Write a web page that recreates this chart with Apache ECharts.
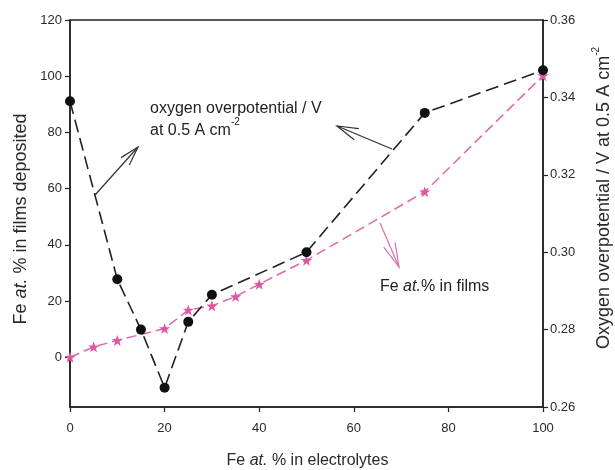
<!DOCTYPE html>
<html>
<head>
<meta charset="utf-8">
<title>Fe content and oxygen overpotential</title>
<script src="https://cdn.jsdelivr.net/npm/echarts@6/dist/echarts.min.js"></script>
<style>
  html, body { margin: 0; padding: 0; background: #fff; }
  #chart { width: 615px; height: 470px; }
</style>
</head>
<body>
<div id="chart"></div>
<script>
// Fe at.% in the electrolyte for each measured overpotential
const electrolyteFeOxy = [0, 10, 15, 20, 25, 30, 50, 75, 100];
// Oxygen overpotential / V at 0.5 A cm-2
const overpotential = [0.339, 0.293, 0.280, 0.265, 0.282, 0.289, 0.300, 0.336, 0.347];

// Fe at.% in the electrolyte for each analysed film
const electrolyteFeFilm = [0, 5, 10, 20, 25, 30, 35, 40, 50, 75, 100];
// Fe at.% found in the deposited films
const feInFilm = [0, 3.7, 6.0, 10.2, 16.8, 18.3, 21.6, 26.0, 34.5, 58.9, 100.2];

// Tick values
const xTicks = [0, 20, 40, 60, 80, 100];
const leftTicks = [0, 20, 40, 60, 80, 100, 120];
const rightTicks = [0.26, 0.28, 0.30, 0.32, 0.34, 0.36];

const FONT = '"Liberation Sans", Arial, Helvetica, sans-serif';
const AXIS_COLOR = '#222';
const LABEL_COLOR = '#2a2a2a';
const PINK = '#e0569f';
const PINK_LINE = '#e06aa9';

const STAR = 'path://M0,-10L2.35,-3.24L9.51,-3.09L3.8,1.24L5.88,8.09L0,4L-5.88,8.09L-3.8,1.24L-9.51,-3.09L-2.35,-3.24Z';

const oxySeriesData = electrolyteFeOxy.map((x, i) => [x, overpotential[i]]);
const filmSeriesData = electrolyteFeFilm.map((x, i) => [x, feInFilm[i]]);

// open arrow: shaft from (x1,y1) to tip (x2,y2) with two short arms
function arrow(x1, y1, x2, y2, color, armLen, halfAngle) {
  const ang = Math.atan2(y1 - y2, x1 - x2);
  const a1 = ang + halfAngle, a2 = ang - halfAngle;
  const style = { stroke: color, lineWidth: 1.2, fill: null };
  return {
    type: 'group',
    children: [
      { type: 'line', shape: { x1, y1, x2, y2 }, style },
      { type: 'polyline', shape: { points: [
          [x2 + armLen * Math.cos(a1), y2 + armLen * Math.sin(a1)],
          [x2, y2],
          [x2 + armLen * Math.cos(a2), y2 + armLen * Math.sin(a2)]
        ] }, style }
    ]
  };
}

const chart = echarts.init(document.getElementById('chart'), null, { renderer: 'canvas' });

const tickLabel = { color: LABEL_COLOR, fontSize: 13, fontFamily: FONT };

const option = {
  backgroundColor: '#fff',
  animation: false,
  grid: {
    left: 70, right: 72, top: 20, bottom: 63,
    show: true, borderColor: AXIS_COLOR, borderWidth: 1.5, backgroundColor: 'transparent'
  },
  xAxis: {
    type: 'value', min: 0, max: 100, interval: 20,
    axisLine: { onZero: false, lineStyle: { color: AXIS_COLOR, width: 1.5 } },
    axisTick: { show: true, length: 5, lineStyle: { color: AXIS_COLOR, width: 1.2 }, customValues: xTicks },
    axisLabel: Object.assign({ margin: 15, customValues: xTicks }, tickLabel),
    splitLine: { show: false }
  },
  yAxis: [
    {
      type: 'value', min: -17.7, max: 120, position: 'left',
      axisLine: { show: true, onZero: false, lineStyle: { color: AXIS_COLOR, width: 1.5 } },
      axisTick: { show: true, length: 5, lineStyle: { color: AXIS_COLOR, width: 1.2 }, customValues: leftTicks },
      axisLabel: Object.assign({ margin: 8, customValues: leftTicks }, tickLabel),
      splitLine: { show: false }
    },
    {
      type: 'value', min: 0.26, max: 0.36, position: 'right',
      axisLine: { show: true, onZero: false, lineStyle: { color: AXIS_COLOR, width: 1.5 } },
      axisTick: { show: true, length: 5, lineStyle: { color: AXIS_COLOR, width: 1.2 }, customValues: rightTicks },
      axisLabel: Object.assign({ margin: 7, customValues: rightTicks, formatter: v => v.toFixed(2) }, tickLabel),
      splitLine: { show: false }
    }
  ],
  series: [
    {
      name: 'Fe at.% in films',
      type: 'line', yAxisIndex: 0, data: filmSeriesData,
      symbol: STAR, symbolSize: 11,
      itemStyle: { color: PINK },
      lineStyle: { color: PINK_LINE, width: 1.5, type: [10, 5] },
      z: 2
    },
    {
      name: 'oxygen overpotential / V',
      type: 'line', yAxisIndex: 1, data: oxySeriesData,
      symbol: 'circle', symbolSize: 10,
      itemStyle: { color: '#111' },
      lineStyle: { color: '#222', width: 1.6, type: [13, 6] },
      z: 3
    }
  ],
  graphic: [
    // x-axis title
    {
      type: 'text', left: 'center', top: 453,
      style: {
        text: '{n|Fe }{i|at.}{n| % in electrolytes}',
        rich: {
          n: { fontSize: 16, fontFamily: FONT, fill: LABEL_COLOR },
          i: { fontSize: 16, fontFamily: FONT, fill: LABEL_COLOR, fontStyle: 'italic' }
        }
      }
    },
    // left y-axis title
    {
      type: 'text', x: 21, y: 219, rotation: Math.PI / 2,
      style: {
        text: '{n|Fe }{i|at.}{n| % in films deposited}',
        align: 'center', verticalAlign: 'middle',
        rich: {
          n: { fontSize: 18, fontFamily: FONT, fill: LABEL_COLOR },
          i: { fontSize: 18, fontFamily: FONT, fill: LABEL_COLOR, fontStyle: 'italic' }
        }
      }
    },
    // right y-axis title
    {
      type: 'text', x: 602, y: 198, rotation: Math.PI / 2,
      style: {
        text: '{n|Oxygen overpotential / V at 0.5 A cm}{s|-2}',
        align: 'center', verticalAlign: 'middle',
        rich: {
          n: { fontSize: 18, fontFamily: FONT, fill: LABEL_COLOR, lineHeight: 22, verticalAlign: 'bottom' },
          s: { fontSize: 10, fontFamily: FONT, fill: LABEL_COLOR, lineHeight: 22, verticalAlign: 'top' }
        }
      }
    },
    // annotation for the overpotential curve
    {
      type: 'text', left: 150, top: 101,
      style: {
        text: '{n|oxygen overpotential / V}\n{n|at 0.5 A cm}{s|-2}',
        rich: {
          n: { fontSize: 16, fontFamily: FONT, fill: '#222', lineHeight: 22, verticalAlign: 'bottom' },
          s: { fontSize: 10, fontFamily: FONT, fill: '#222', lineHeight: 22, verticalAlign: 'top' }
        }
      }
    },
    // annotation for the film composition curve
    {
      type: 'text', left: 380, top: 279,
      style: {
        text: '{n|Fe }{i|at.}{n|% in films}',
        rich: {
          n: { fontSize: 16, fontFamily: FONT, fill: '#222' },
          i: { fontSize: 16, fontFamily: FONT, fill: '#222', fontStyle: 'italic' }
        }
      }
    },
    arrow(95, 195, 138, 147, '#333', 20, 0.28),
    arrow(392, 149, 337, 126, '#333', 22, 0.28),
    arrow(380, 223, 399, 267, '#d870ae', 25, 0.25)
  ]
};

chart.setOption(option);
</script>
</body>
</html>
